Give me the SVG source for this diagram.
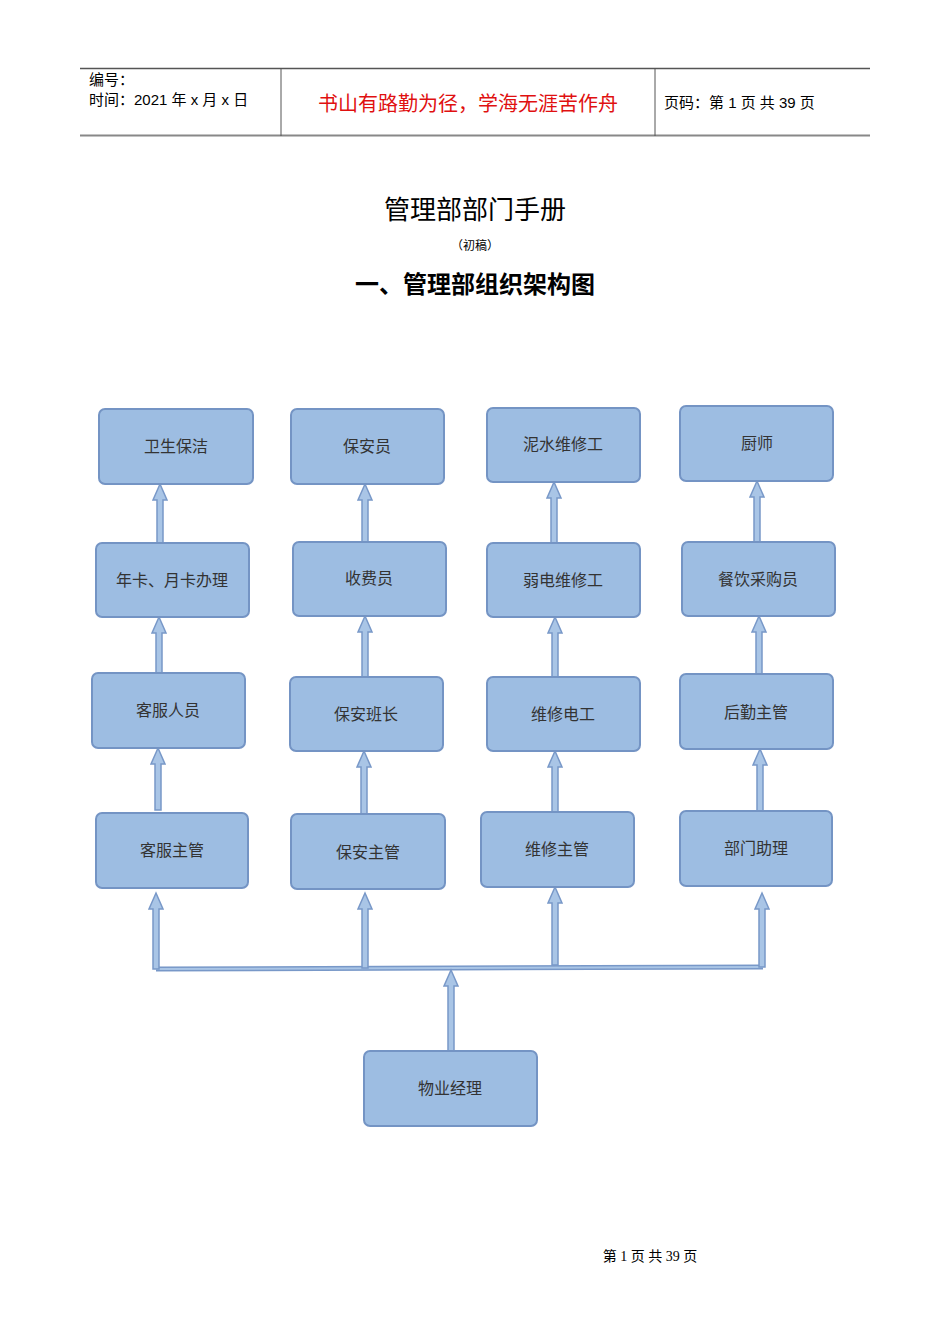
<svg xmlns="http://www.w3.org/2000/svg" width="950" height="1344" viewBox="0 0 950 1344">
<style>
.n rect{fill:#9dbde2;stroke:#7494c4;stroke-width:2}
.n text{font-family:"Noto Sans CJK SC",sans-serif;font-size:16px;fill:#333;text-anchor:middle;dominant-baseline:central}
.a{fill:#a9c5e6;stroke:#7898c8;stroke-width:1.5}
.h{font-family:"Liberation Sans","Noto Sans CJK SC",sans-serif;font-size:15px;fill:#000}
</style>
<rect width="950" height="1344" fill="#fff"/>
<g id="header">
<line x1="80" y1="68.5" x2="870" y2="68.5" stroke="#555" stroke-width="1.5"/>
<line x1="80" y1="135.5" x2="870" y2="135.5" stroke="#888" stroke-width="2"/>
<line x1="281" y1="68" x2="281" y2="136" stroke="#555"/>
<line x1="655" y1="68" x2="655" y2="136" stroke="#555"/>
<text class="h" x="89" y="85">编号：</text>
<text class="h" x="89" y="105">时间：2021 年 x 月 x 日</text>
<text x="468" y="111" font-family="Noto Sans CJK SC,sans-serif" font-size="20" fill="#e01010" text-anchor="middle">书山有路勤为径，学海无涯苦作舟</text>
<text class="h" x="664" y="108">页码：第 1 页  共 39 页</text>
</g>
<text x="475" y="219" font-family="Noto Sans CJK SC,sans-serif" font-size="26" text-anchor="middle">管理部部门手册</text>
<text x="475" y="250" font-family="Noto Sans CJK SC,sans-serif" font-size="12" text-anchor="middle">（初稿）</text>
<text x="475" y="293" font-family="Noto Sans CJK SC,sans-serif" font-size="24" font-weight="bold" text-anchor="middle">一、管理部组织架构图</text>
<text x="650" y="1261" font-family="Liberation Serif,Noto Sans CJK SC,serif" font-size="14" text-anchor="middle">第 1 页 共 39 页</text>
<g id="connectors">
<polyline points="156,969 451,968 763,967" fill="none" stroke="#7898c8" stroke-width="5"/>
<polyline points="156,969 451,968 763,967" fill="none" stroke="#a9c5e6" stroke-width="2"/>
<polygon class="a" points="157,543 157,500 153,500 160,484 167,500 163,500 163,543"/>
<polygon class="a" points="156,673 156,633 152,633 159,617 166,633 162,633 162,673"/>
<polygon class="a" points="155,810 155,764 151,764 158,748 165,764 161,764 161,810"/>
<polygon class="a" points="362,542 362,500 358,500 365,484 372,500 368,500 368,542"/>
<polygon class="a" points="362,677 362,632 358,632 365,616 372,632 368,632 368,677"/>
<polygon class="a" points="361,814 361,767 357,767 364,751 371,767 367,767 367,814"/>
<polygon class="a" points="551,543 551,498 547,498 554,482 561,498 557,498 557,543"/>
<polygon class="a" points="552,677 552,633 548,633 555,617 562,633 558,633 558,677"/>
<polygon class="a" points="552,812 552,767 548,767 555,751 562,767 558,767 558,812"/>
<polygon class="a" points="754,542 754,497 750,497 757,481 764,497 760,497 760,542"/>
<polygon class="a" points="756,674 756,632 752,632 759,616 766,632 762,632 762,674"/>
<polygon class="a" points="757,811 757,765 753,765 760,749 767,765 763,765 763,811"/>
<polygon class="a" points="153,969 153,909 149,909 156,893 163,909 159,909 159,969"/>
<polygon class="a" points="362,968 362,909 358,909 365,893 372,909 368,909 368,968"/>
<polygon class="a" points="552,965 552,903 548,903 555,887 562,903 558,903 558,965"/>
<polygon class="a" points="759,967 759,909 755,909 762,893 769,909 765,909 765,967"/>
<polygon class="a" points="448,1051 448,986 444,986 451,970 458,986 454,986 454,1051"/>
</g>
<g id="n1" class="n"><rect x="99" y="409" width="154" height="75" rx="6"/><text x="176" y="445">卫生保洁</text></g>
<g id="n2" class="n"><rect x="291" y="409" width="153" height="75" rx="6"/><text x="367" y="445">保安员</text></g>
<g id="n3" class="n"><rect x="487" y="408" width="153" height="74" rx="6"/><text x="563" y="443">泥水维修工</text></g>
<g id="n4" class="n"><rect x="680" y="406" width="153" height="75" rx="6"/><text x="757" y="442">厨师</text></g>
<g id="n5" class="n"><rect x="96" y="543" width="153" height="74" rx="6"/><text x="172" y="579">年卡、月卡办理</text></g>
<g id="n6" class="n"><rect x="293" y="542" width="153" height="74" rx="6"/><text x="369" y="577">收费员</text></g>
<g id="n7" class="n"><rect x="487" y="543" width="153" height="74" rx="6"/><text x="563" y="579">弱电维修工</text></g>
<g id="n8" class="n"><rect x="682" y="542" width="153" height="74" rx="6"/><text x="758" y="578">餐饮采购员</text></g>
<g id="n9" class="n"><rect x="92" y="673" width="153" height="75" rx="6"/><text x="168" y="709">客服人员</text></g>
<g id="n10" class="n"><rect x="290" y="677" width="153" height="74" rx="6"/><text x="366" y="713">保安班长</text></g>
<g id="n11" class="n"><rect x="487" y="677" width="153" height="74" rx="6"/><text x="563" y="713">维修电工</text></g>
<g id="n12" class="n"><rect x="680" y="674" width="153" height="75" rx="6"/><text x="756" y="711">后勤主管</text></g>
<g id="n13" class="n"><rect x="96" y="813" width="152" height="75" rx="6"/><text x="172" y="849">客服主管</text></g>
<g id="n14" class="n"><rect x="291" y="814" width="154" height="75" rx="6"/><text x="368" y="851">保安主管</text></g>
<g id="n15" class="n"><rect x="481" y="812" width="153" height="75" rx="6"/><text x="557" y="848">维修主管</text></g>
<g id="n16" class="n"><rect x="680" y="811" width="152" height="75" rx="6"/><text x="756" y="847">部门助理</text></g>
<g id="n17" class="n"><rect x="364" y="1051" width="173" height="75" rx="6"/><text x="450" y="1087">物业经理</text></g>
</svg>
